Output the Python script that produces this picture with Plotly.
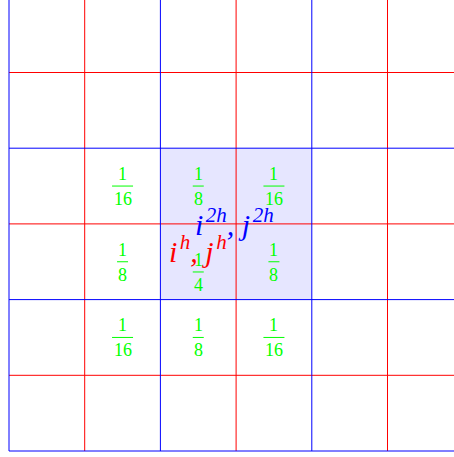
import plotly.graph_objects as go

# grid coordinates (cell boundaries)
grid_blue = [0, 2, 4]
grid_red = [1, 3, 5]
grid_lo, grid_hi = 0, 6

# shaded coarse cell
shade_x = [2, 4]
shade_y = [2, 4]

# restriction weights (fractions) at fine cell centres
frac_x = [1.5, 2.5, 3.5, 1.5, 2.5, 3.5, 1.5, 2.5, 3.5]
frac_y = [3.5, 3.5, 3.5, 2.5, 2.365, 2.5, 1.5, 1.5, 1.5]
frac_num = ["1", "1", "1", "1", "1", "1", "1", "1", "1"]
frac_den = ["16", "8", "16", "8", "4", "8", "16", "8", "16"]

# point labels
label_text = ["i&#8202;<sup>2h</sup>,&nbsp;j&#8202;<sup>2h</sup>",
              "i&#8202;<sup>h</sup>,&nbsp;j&#8202;<sup>h</sup>"]
label_x = [2.985, 2.5]
label_y = [3.025, 2.675]
label_color = ["#0000ff", "#ff0000"]

PX = 75.7
fig = go.Figure()

def grid_trace(coords, color):
    xs, ys = [], []
    for c in coords:
        xs += [c, c, None]
        ys += [grid_lo, grid_hi, None]
        xs += [grid_lo, grid_hi, None]
        ys += [c, c, None]
    return go.Scatter(x=xs, y=ys, mode="lines", line=dict(color=color, width=1),
                      hoverinfo="skip", showlegend=False)

fig.add_trace(grid_trace(grid_red, "#ff0000"))
fig.add_trace(grid_trace(grid_blue, "#0000ff"))

fig.add_shape(type="rect", x0=shade_x[0], x1=shade_x[1], y0=shade_y[0], y1=shade_y[1],
              fillcolor="#e6e6ff", line=dict(width=0), layer="below")

FR = dict(family="Liberation Serif", size=18, color="#00ff00")
for x, y, n, d in zip(frac_x, frac_y, frac_num, frac_den):
    fig.add_annotation(x=x, y=y, text=n, showarrow=False, font=FR,
                       xanchor="center", yanchor="middle", yshift=12)
    fig.add_annotation(x=x, y=y, text=d, showarrow=False, font=FR,
                       xanchor="center", yanchor="middle", yshift=-13)
    w = 10.5 if len(d) > 1 else 5.5
    fig.add_shape(type="line", xref="x", yref="y", xsizemode="pixel", xanchor=x,
                  x0=-w, x1=w, y0=y, y1=y, line=dict(color="#00ff00", width=1))

for t, x, y, c in zip(label_text, label_x, label_y, label_color):
    fig.add_annotation(x=x, y=y, text="<i>" + t + "</i>", showarrow=False,
                       font=dict(family="Liberation Serif", size=30, color=c),
                       xanchor="center", yanchor="middle")

fig.update_xaxes(range=[-9 / PX, (454 - 9) / PX], visible=False, showgrid=False, zeroline=False)
fig.update_yaxes(range=[(451 - 457) / PX, 451 / PX], visible=False, showgrid=False, zeroline=False)
fig.update_layout(width=454, height=457, margin=dict(l=0, r=0, t=0, b=0),
                  plot_bgcolor="white", paper_bgcolor="white")
fig.write_html("out.html", config={"displayModeBar": False},
               post_script="document.body.style.margin='0';document.body.style.overflow='hidden';")
